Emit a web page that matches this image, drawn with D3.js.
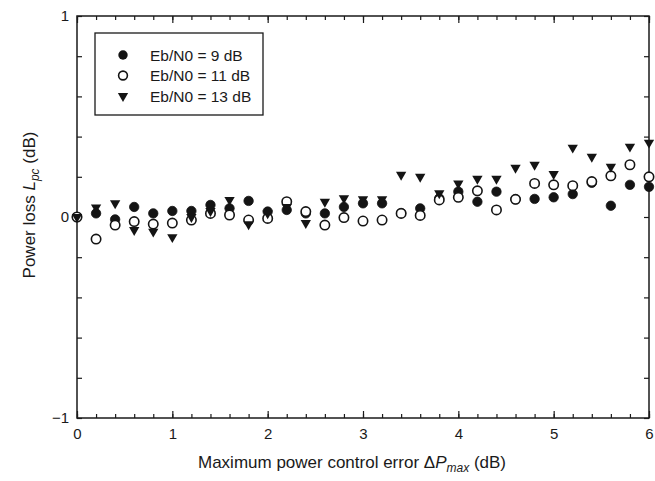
<!DOCTYPE html>
<html>
<head>
<meta charset="utf-8">
<script src="https://cdn.jsdelivr.net/npm/d3@7"></script>
<style>
  body { margin: 0; background: #fff; }
  svg { display: block; font-family: "Liberation Sans", Arial, Helvetica, sans-serif; }
</style>
</head>
<body>
<svg id="chart" width="655" height="481"></svg>
<script>
// ---- data ----
const xValues = [0, 0.2, 0.4, 0.6, 0.8, 1.0, 1.2, 1.4, 1.6, 1.8, 2.0, 2.2, 2.4, 2.6, 2.8, 3.0,
                 3.2, 3.4, 3.6, 3.8, 4.0, 4.2, 4.4, 4.6, 4.8, 5.0, 5.2, 5.4, 5.6, 5.8, 6.0];
const seriesNames = ["Eb/N0 = 9 dB", "Eb/N0 = 11 dB", "Eb/N0 = 13 dB"];
const loss9dB  = [0, 0.018, -0.012, 0.05, 0.018, 0.03, 0.03, 0.06, 0.043, 0.08, 0.027, 0.035, 0.018, 0.018, 0.05, 0.068,
                  0.068, 0.02, 0.043, 0.093, 0.126, 0.076, 0.126, 0.088, 0.09, 0.098, 0.114, 0.17, 0.056, 0.16, 0.15];
const loss11dB = [0, -0.11, -0.04, -0.023, -0.035, -0.03, -0.015, 0.018, 0.01, -0.015, -0.007, 0.076, 0.027, -0.04, -0.003, -0.02,
                  -0.015, 0.018, 0.008, 0.085, 0.098, 0.13, 0.035, 0.088, 0.167, 0.16, 0.156, 0.176, 0.205, 0.26, 0.2];
const loss13dB = [0, 0.048, 0.068, -0.065, -0.073, -0.10, 0, 0.03, 0.085, -0.036, 0.018, 0.05, -0.03, 0.076, 0.093, 0.088,
                  0.088, 0.21, 0.2, 0.118, 0.167, 0.19, 0.19, 0.245, 0.26, 0.214, 0.345, 0.3, 0.25, 0.35, 0.37];
const xMajorTicks = [0, 1, 2, 3, 4, 5, 6];
const yMajorTicks = [-1, 0, 1];

// ---- layout ----
const W = 655, H = 481;
const margin = { left: 77, right: 6, top: 16, bottom: 63 };
const svg = d3.select("#chart");
const x = d3.scaleLinear().domain([0, 6]).range([margin.left, W - margin.right]);
const y = d3.scaleLinear().domain([-1, 1]).range([H - margin.bottom, margin.top]);
const ink = "#1a1a1a";

// frame
svg.append("rect")
  .attr("x", x(0)).attr("y", y(1))
  .attr("width", x(6) - x(0)).attr("height", y(-1) - y(1))
  .attr("fill", "none").attr("stroke", ink).attr("stroke-width", 1.5);

const minorX = d3.range(0, 31).map(i => i * 0.2);
const minorY = d3.range(0, 11).map(i => -1 + i * 0.2);

function styleAxis(g) {
  g.select(".domain").remove();
  g.selectAll(".tick line").attr("stroke", ink).attr("stroke-width", 1.2);
  g.selectAll("text").attr("fill", ink).attr("font-size", 15);
}

// bottom
svg.append("g").attr("transform", `translate(0,${y(-1)})`)
  .call(d3.axisBottom(x).tickValues(minorX).tickSize(-4).tickFormat(""))
  .call(styleAxis);
svg.append("g").attr("transform", `translate(0,${y(-1)})`)
  .call(d3.axisBottom(x).tickValues(xMajorTicks).tickSize(-7).tickPadding(10).tickFormat(d3.format("d")))
  .call(styleAxis);
// top
svg.append("g").attr("transform", `translate(0,${y(1)})`)
  .call(d3.axisTop(x).tickValues(minorX).tickSize(-4).tickFormat(""))
  .call(styleAxis);
svg.append("g").attr("transform", `translate(0,${y(1)})`)
  .call(d3.axisTop(x).tickValues(xMajorTicks).tickSize(-7).tickFormat(""))
  .call(styleAxis);
// left
svg.append("g").attr("transform", `translate(${x(0)},0)`)
  .call(d3.axisLeft(y).tickValues(minorY).tickSize(-5).tickFormat(""))
  .call(styleAxis);
svg.append("g").attr("transform", `translate(${x(0)},0)`)
  .call(d3.axisLeft(y).tickValues(yMajorTicks).tickSize(0).tickPadding(8).tickFormat(d3.format("d")))
  .call(styleAxis);
// right
svg.append("g").attr("transform", `translate(${x(6)},0)`)
  .call(d3.axisRight(y).tickValues(minorY).tickSize(-5).tickFormat(""))
  .call(styleAxis);

// ---- points ----
const circleR = 4.7;
const triSym = d3.symbol().type(d3.symbolTriangle).size(46);
const pts = svg.append("g");

pts.selectAll("circle.s9").data(xValues.map((v, i) => [v, loss9dB[i]])).enter()
  .append("circle").attr("class", "s9")
  .attr("cx", d => x(d[0])).attr("cy", d => y(d[1])).attr("r", circleR)
  .attr("fill", "#141414").attr("stroke", "#141414").attr("stroke-width", 0.8);

pts.selectAll("circle.s11").data(xValues.map((v, i) => [v, loss11dB[i]])).enter()
  .append("circle").attr("class", "s11")
  .attr("cx", d => x(d[0])).attr("cy", d => y(d[1])).attr("r", circleR)
  .attr("fill", "#fff").attr("stroke", "#141414").attr("stroke-width", 1.6);

pts.selectAll("path.s13").data(xValues.map((v, i) => [v, loss13dB[i]])).enter()
  .append("path").attr("class", "s13")
  .attr("d", triSym)
  .attr("transform", d => `translate(${x(d[0])},${y(d[1])}) rotate(180)`)
  .attr("fill", "#141414");

// ---- legend ----
const lg = svg.append("g");
lg.append("rect").attr("x", 95).attr("y", 33).attr("width", 168).attr("height", 82)
  .attr("fill", "#fff").attr("stroke", ink).attr("stroke-width", 1.3);
const rows = [55, 75.5, 96];
lg.append("circle").attr("cx", 123).attr("cy", rows[0]).attr("r", circleR).attr("fill", "#141414");
lg.append("circle").attr("cx", 123).attr("cy", rows[1]).attr("r", circleR - 0.3)
  .attr("fill", "#fff").attr("stroke", "#141414").attr("stroke-width", 1.6);
lg.append("path").attr("d", triSym).attr("transform", `translate(123,${rows[2]}) rotate(180)`).attr("fill", "#141414");
seriesNames.forEach((s, i) => {
  lg.append("text").attr("x", 150).attr("y", rows[i]).attr("dy", "0.36em")
    .attr("font-size", 15.5).attr("fill", ink).text(s);
});

// ---- axis titles ----
const xt = svg.append("text").attr("x", 352).attr("y", 468).attr("text-anchor", "middle")
  .attr("font-size", 17).attr("fill", ink);
xt.append("tspan").text("Maximum power control error \u0394");
xt.append("tspan").attr("font-style", "italic").text("P");
xt.append("tspan").attr("font-style", "italic").attr("font-size", 12).attr("dy", 4).text("max");
xt.append("tspan").attr("dy", -4).text(" (dB)");

const yt = svg.append("text").attr("transform", "translate(35,205) rotate(-90)")
  .attr("text-anchor", "middle").attr("font-size", 17).attr("fill", ink);
yt.append("tspan").text("Power loss ");
yt.append("tspan").attr("font-style", "italic").text("L");
yt.append("tspan").attr("font-style", "italic").attr("font-size", 12).attr("dy", 4).text("pc");
yt.append("tspan").attr("dy", -4).text(" (dB)");
</script>
</body>
</html>
